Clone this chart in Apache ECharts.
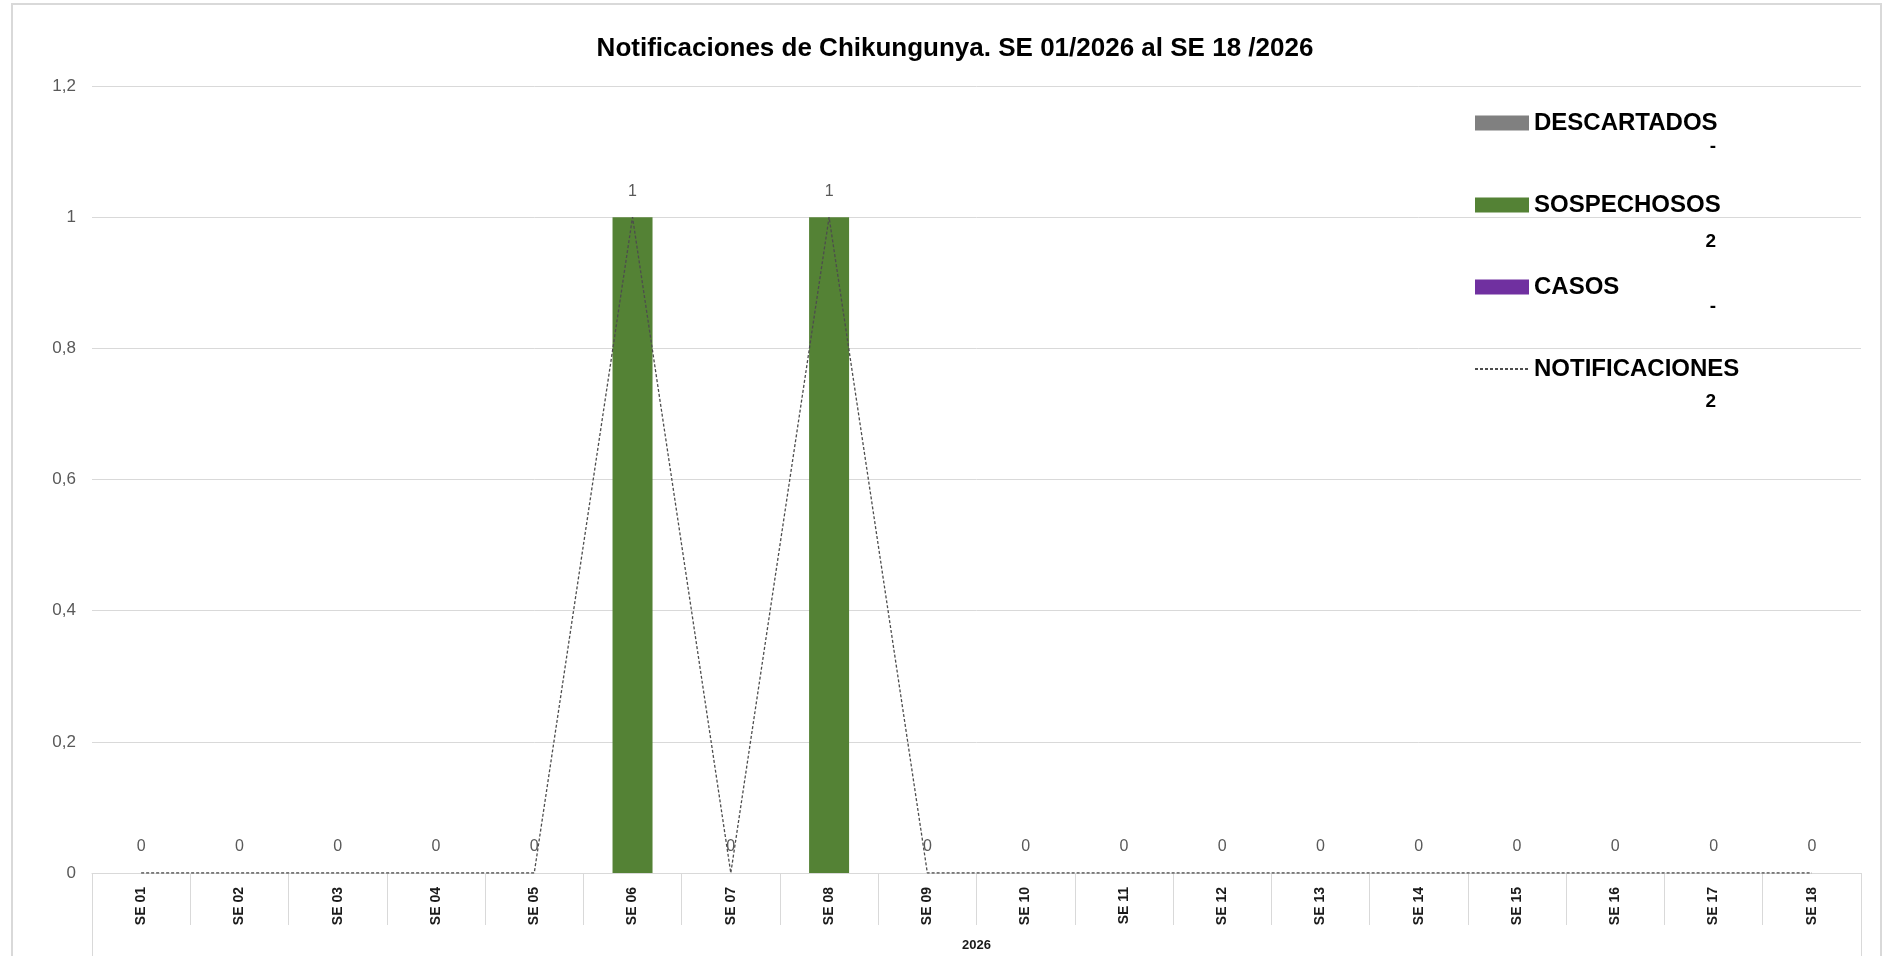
<!DOCTYPE html>
<html>
<head>
<meta charset="utf-8">
<style>
html,body{margin:0;padding:0;background:#fff;}
#chart{width:1882px;height:956px;}
</style>
<script src="https://cdn.jsdelivr.net/npm/echarts@6/dist/echarts.min.js"></script>
</head>
<body>
<div id="chart"></div>
<script>
const categories = ['SE 01','SE 02','SE 03','SE 04','SE 05','SE 06','SE 07','SE 08','SE 09','SE 10','SE 11','SE 12','SE 13','SE 14','SE 15','SE 16','SE 17','SE 18'];
const yearLabel = ['2026'];
const descartados = [0,0,0,0,0,0,0,0,0,0,0,0,0,0,0,0,0,0];
const sospechosos = [0,0,0,0,0,1,0,1,0,0,0,0,0,0,0,0,0,0];
const casos = [0,0,0,0,0,0,0,0,0,0,0,0,0,0,0,0,0,0];
const notificaciones = [0,0,0,0,0,1,0,1,0,0,0,0,0,0,0,0,0,0];
const yTicks = {min: 0, max: 1.2, interval: 0.2};

const FONT = 'Liberation Sans';
const sum = a => a.reduce((s, v) => s + v, 0);
const fmtTotal = v => (v === 0 ? '-' : String(v));

const chart = echarts.init(document.getElementById('chart'));
chart.setOption({
  backgroundColor: '#ffffff',
  animation: false,
  textStyle: {fontFamily: FONT},
  title: {
    text: 'Notificaciones de Chikungunya. SE 01/2026 al SE 18 /2026',
    left: 950, top: 31, textAlign: 'center',
    textStyle: {fontFamily: FONT, fontSize: 26, fontWeight: 'bold', color: '#000000'}
  },
  grid: {left: 92, right: 21, top: 86, bottom: 83, containLabel: false},
  legend: {
    orient: 'vertical', left: 1469, top: 106, itemGap: 58,
    itemWidth: 54, itemHeight: 15,
    textStyle: {fontFamily: FONT, fontSize: 24, fontWeight: 'bold', color: '#000000', lineHeight: 24},
    data: [
      {name: 'DESCARTADOS', icon: 'rect'},
      {name: 'SOSPECHOSOS', icon: 'rect'},
      {name: 'CASOS', icon: 'rect'},
      {name: 'NOTIFICACIONES', itemStyle: {opacity: 0}}
    ]
  },
  graphic: [
    {type: 'rect', silent: true, z: -1, shape: {x: 12, y: 4, width: 1869, height: 1000},
     style: {fill: 'none', stroke: '#d9d9d9', lineWidth: 2}},
    {type: 'text', x: 1716, y: 147, style: {text: fmtTotal(sum(descartados)), align: 'right', verticalAlign: 'middle', font: 'bold 19px ' + FONT, fill: '#000'}},
    {type: 'text', x: 1716, y: 242, style: {text: fmtTotal(sum(sospechosos)), align: 'right', verticalAlign: 'middle', font: 'bold 19px ' + FONT, fill: '#000'}},
    {type: 'text', x: 1716, y: 307, style: {text: fmtTotal(sum(casos)), align: 'right', verticalAlign: 'middle', font: 'bold 19px ' + FONT, fill: '#000'}},
    {type: 'text', x: 1716, y: 402, style: {text: fmtTotal(sum(notificaciones)), align: 'right', verticalAlign: 'middle', font: 'bold 19px ' + FONT, fill: '#000'}}
  ],
  xAxis: [
    {
      type: 'category', data: categories, position: 'bottom', boundaryGap: true,
      axisLine: {lineStyle: {color: '#d9d9d9', width: 1}},
      axisTick: {show: true, interval: 0, length: 52, lineStyle: {color: '#d9d9d9'}},
      axisLabel: {interval: 0, rotate: 90, margin: 14, fontFamily: FONT, fontSize: 14, fontWeight: 'bold', color: '#1a1a1a'},
      splitLine: {show: false}
    },
    {
      type: 'category', data: yearLabel, position: 'bottom', boundaryGap: true,
      axisLine: {show: false},
      axisTick: {show: true, length: 83, lineStyle: {color: '#d9d9d9'}},
      axisLabel: {margin: 66, fontFamily: FONT, fontSize: 13, fontWeight: 'bold', color: '#1a1a1a'},
      splitLine: {show: false}
    }
  ],
  yAxis: {
    type: 'value', min: yTicks.min, max: yTicks.max, interval: yTicks.interval,
    axisLine: {show: false}, axisTick: {show: false},
    axisLabel: {margin: 16, fontFamily: FONT, fontSize: 17, color: '#595959',
      formatter: v => String(Number(v.toFixed(1))).replace('.', ',')},
    splitLine: {lineStyle: {color: '#d9d9d9', width: 1}}
  },
  series: [
    {name: 'DESCARTADOS', type: 'bar', stack: 'a', xAxisIndex: 0, data: descartados, barWidth: 40,
     itemStyle: {color: '#808080'}},
    {name: 'SOSPECHOSOS', type: 'bar', stack: 'a', xAxisIndex: 0, data: sospechosos, barWidth: 40,
     itemStyle: {color: '#548235'}},
    {name: 'CASOS', type: 'bar', stack: 'a', xAxisIndex: 0, data: casos, barWidth: 40,
     itemStyle: {color: '#7030A0'}},
    {name: 'NOTIFICACIONES', type: 'line', xAxisIndex: 0, data: notificaciones,
     symbol: 'circle', symbolSize: 0, showSymbol: true, z: 5,
     lineStyle: {color: '#4d4d4d', width: 1.3, type: [3, 2]},
     itemStyle: {color: '#4d4d4d'},
     label: {show: true, position: 'top', distance: 18, fontFamily: FONT, fontSize: 16, color: '#595959'}}
  ]
});
</script>
</body>
</html>
